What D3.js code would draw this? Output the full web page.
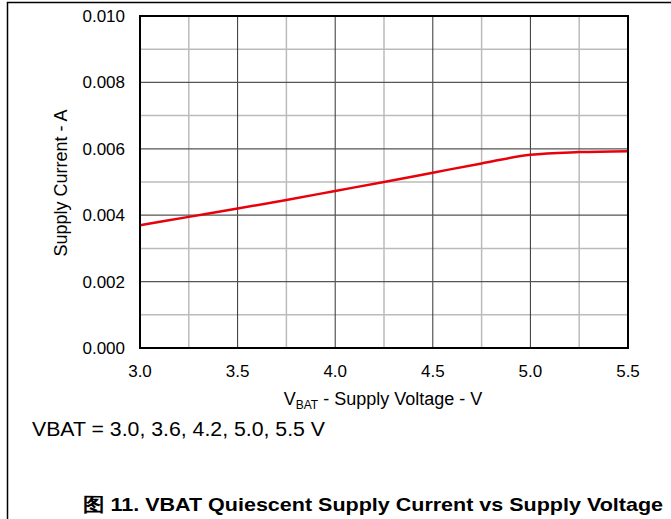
<!DOCTYPE html>
<meta charset="utf-8" />
<style>
  body { margin: 0; background: #fff; }
  text { font-family: "Liberation Sans", Arial, sans-serif; fill: #000; }
</style>
<body>
  <div id="grafico"></div>
  <script src="https://cdn.jsdelivr.net/npm/d3@7"></script>
  <script>
    // tensao (V) e corrente (A)
    var tensao = [3.0, 3.25, 3.5, 3.75, 4.0, 4.25, 4.5, 4.75, 5.0, 5.25, 5.5];
    var corrente = [0.0037, 0.00395, 0.0042, 0.00446, 0.00473, 0.005, 0.00528, 0.00556, 0.00582, 0.0059, 0.00593];
    var ticksX = [3.0, 3.5, 4.0, 4.5, 5.0, 5.5];
    var ticksY = [0, 0.002, 0.004, 0.006, 0.008, 0.010];

    var largura = 671, altura = 519;
    var esq = 140, dir = 628, topo = 16, base = 348;

    var svg = d3.select("#grafico").append("svg")
      .attr("width", largura)
      .attr("height", altura);

    // moldura da figura
    svg.append("path")
      .attr("d", "M7.5," + altura + "V2.5H" + largura)
      .attr("fill", "none")
      .attr("stroke", "#000")
      .attr("stroke-width", 1.5);

    var x = d3.scaleLinear().domain([3.0, 5.5]).range([esq, dir]);
    var y = d3.scaleLinear().domain([0, 0.010]).range([base, topo]);

    // grade secundaria
    var g = svg.append("g");
    g.selectAll(".vmenor").data(d3.range(3.25, 5.5, 0.5)).enter().append("line")
      .attr("x1", d => x(d)).attr("x2", d => x(d))
      .attr("y1", topo).attr("y2", base)
      .attr("stroke", "#bbb").attr("stroke-width", 1.5);
    g.selectAll(".hmenor").data(d3.range(0.001, 0.010, 0.002)).enter().append("line")
      .attr("x1", esq).attr("x2", dir)
      .attr("y1", d => y(d)).attr("y2", d => y(d))
      .attr("stroke", "#bbb").attr("stroke-width", 1.5);

    // grade principal
    g.selectAll(".vmaior").data(ticksX.slice(1, -1)).enter().append("line")
      .attr("x1", d => x(d)).attr("x2", d => x(d))
      .attr("y1", topo).attr("y2", base)
      .attr("stroke", "#333").attr("stroke-width", 1);
    g.selectAll(".hmaior").data(ticksY.slice(1, -1)).enter().append("line")
      .attr("x1", esq).attr("x2", dir)
      .attr("y1", d => y(d)).attr("y2", d => y(d))
      .attr("stroke", "#555").attr("stroke-width", 1.3);

    // curva
    var dados = tensao.map((v, i) => ({ v: v, a: corrente[i] }));
    svg.append("path")
      .datum(dados)
      .attr("fill", "none")
      .attr("stroke", "#e8000b")
      .attr("stroke-width", 2.5)
      .attr("d", d3.line().x(d => x(d.v)).y(d => y(d.a)).curve(d3.curveMonotoneX));

    // borda da area do grafico
    svg.append("rect")
      .attr("x", esq).attr("y", topo)
      .attr("width", dir - esq).attr("height", base - topo)
      .attr("fill", "none")
      .attr("stroke", "#000")
      .attr("stroke-width", 2);

    // rotulos dos eixos
    svg.selectAll(".rotY").data(ticksY).enter().append("text")
      .attr("x", 125)
      .attr("y", d => y(d) + 6)
      .attr("text-anchor", "end")
      .attr("font-size", "17px")
      .text(d => d3.format(".3f")(d));

    svg.selectAll(".rotX").data(ticksX).enter().append("text")
      .attr("x", d => x(d))
      .attr("y", 377)
      .attr("text-anchor", "middle")
      .attr("font-size", "17px")
      .text(d => d3.format(".1f")(d));

    svg.append("text")
      .attr("transform", "translate(67,183) rotate(-90)")
      .attr("text-anchor", "middle")
      .attr("font-size", "18px")
      .text("Supply Current - A");

    var tituloX = svg.append("text")
      .attr("x", 383)
      .attr("y", 405)
      .attr("text-anchor", "middle")
      .attr("font-size", "18px");
    tituloX.append("tspan").text("V");
    tituloX.append("tspan").attr("font-size", "12px").attr("dy", 4).text("BAT");
    tituloX.append("tspan").attr("dy", -4).text(" - Supply Voltage - V");

    svg.append("text")
      .attr("x", 32)
      .attr("y", 436)
      .attr("font-size", "19.5px")
      .attr("textLength", 293)
      .attr("lengthAdjust", "spacingAndGlyphs")
      .text("VBAT = 3.0, 3.6, 4.2, 5.0, 5.5 V");

    svg.append("text")
      .attr("x", 83)
      .attr("y", 511)
      .attr("font-size", "19px")
      .attr("font-weight", "bold")
      .attr("textLength", 580)
      .attr("lengthAdjust", "spacingAndGlyphs")
      .text("图 11. VBAT Quiescent Supply Current vs Supply Voltage");
  </script>
</body>
